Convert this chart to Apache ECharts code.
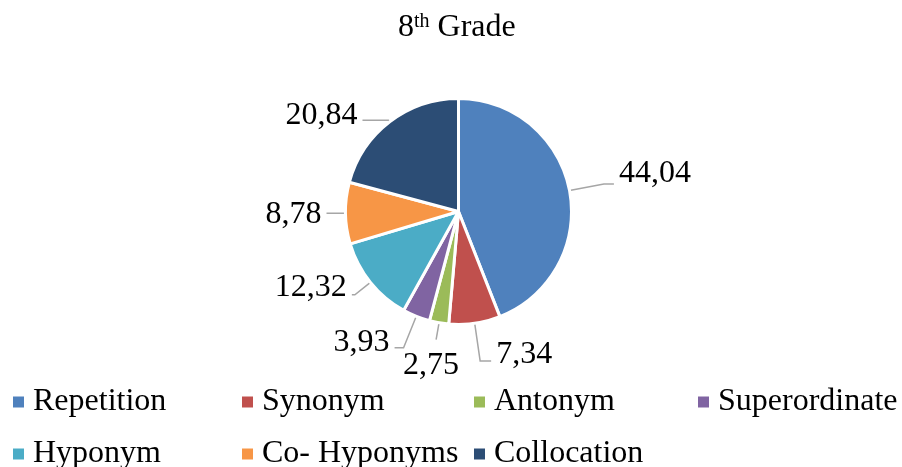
<!DOCTYPE html>
<html>
<head>
<meta charset="utf-8">
<style>
  html, body { margin: 0; padding: 0; background: #fff; }
  #chart { width: 902px; height: 467px; }
</style>
<script src="https://cdn.jsdelivr.net/npm/echarts@6/dist/echarts.min.js"></script>
</head>
<body>
<div id="chart"></div>
<script>
// Cohesion device shares, 8th grade (percent)
const categories = ['Repetition', 'Synonym', 'Antonym', 'Superordinate', 'Hyponym', 'Co- Hyponyms', 'Collocation'];
const shares = [44.04, 7.34, 2.75, 3.93, 12.32, 8.78, 20.84];
const colors = ['#4F81BD', '#C0504D', '#9BBB59', '#8064A2', '#4BACC6', '#F79646', '#2C4D75'];

// Leader line segment lengths and vertical label shift for each slice
const leadLen = [35, 38, 17, 34, 20, 5, 2];
const leadLen2 = [10, 11, 0, 9, 3, 14, 26];
const labelShiftY = [-10, -6, 26, -5, -7, 1, -5];

// Legend grid: column and row of each entry
const legendCol = [0, 1, 2, 3, 0, 1, 2];
const legendRow = [0, 0, 0, 0, 1, 1, 1];
const legendColLeft = [8, 237, 469, 693];
const legendRowTop = [381, 433];

const FONT = "'Liberation Serif', 'Times New Roman', serif";

const chart = echarts.init(document.getElementById('chart'), null, { renderer: 'canvas' });

const fmt = v => v.toFixed(2).replace('.', ',');

chart.setOption({
  animation: false,
  backgroundColor: '#fff',
  title: {
    text: '{n|8}{s|th}{n| Grade}',
    left: 393,
    top: 7,
    textStyle: {
      fontFamily: FONT,
      fontSize: 32,
      fontWeight: 'normal',
      color: '#000',
      rich: {
        n: { fontFamily: FONT, fontSize: 32, lineHeight: 32, fontWeight: 'normal', color: '#000' },
        s: { fontFamily: FONT, fontSize: 20, lineHeight: 20, fontWeight: 'normal', color: '#000', verticalAlign: 'top' }
      }
    }
  },
  legend: categories.map((name, i) => ({
    data: [name],
    orient: 'horizontal',
    left: legendColLeft[legendCol[i]],
    top: legendRowTop[legendRow[i]],
    itemWidth: 11,
    itemHeight: 11,
    icon: 'rect',
    selectedMode: false,
    itemStyle: { borderWidth: 0 },
    textStyle: {
      fontFamily: FONT,
      fontSize: 32,
      lineHeight: 32,
      color: '#000',
      padding: [0, 0, 0, 4]
    }
  })),
  series: [{
    type: 'pie',
    center: [458.5, 211.5],
    radius: 113,
    startAngle: 90,
    clockwise: true,
    avoidLabelOverlap: false,
    itemStyle: { borderColor: '#fff', borderWidth: 3 },
    label: {
      show: true,
      position: 'outside',
      fontFamily: FONT,
      fontSize: 32,
      color: '#000',
      distanceToLabelLine: 5,
      formatter: p => fmt(p.value)
    },
    labelLine: {
      show: true,
      smooth: false,
      lineStyle: { color: '#a6a6a6', width: 1.5 }
    },
    emphasis: { disabled: true },
    data: categories.map((name, i) => ({
      name: name,
      value: shares[i],
      itemStyle: { color: colors[i] },
      labelLine: { length: leadLen[i], length2: leadLen2[i] }
    })),
    labelLayout: p => {
      const i = p.dataIndex;
      const o = { dy: labelShiftY[i], labelLinePoints: p.labelLinePoints, hideOverlap: false };
      if (leadLen2[i] === 0) o.align = 'center';
      return o;
    }
  }]
});
</script>
</body>
</html>
